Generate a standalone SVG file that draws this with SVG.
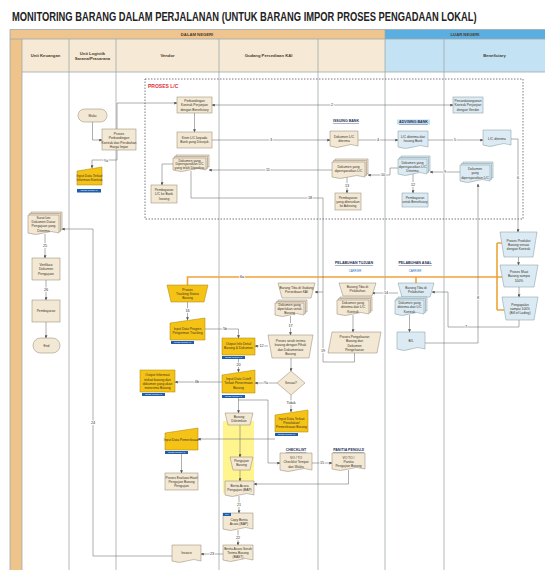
<svg xmlns="http://www.w3.org/2000/svg" width="545" height="570" viewBox="0 0 545 570">
<defs>
<marker id="a" viewBox="0 0 6 6" refX="5.5" refY="3" markerWidth="3" markerHeight="3" markerUnits="userSpaceOnUse" orient="auto-start-reverse"><path d="M0,0L6,3L0,6z" fill="#555"/></marker>
<style>
.box{fill:#f3e8d3;stroke:#8f836e;stroke-width:.5}
.lb{fill:#dcebf3;stroke:#7f949f;stroke-width:.5}
.yl{fill:#f5c216;stroke:#a88300;stroke-width:.5}
.tag{fill:#1d5fae}
.tt{font-family:"Liberation Sans",Arial,sans-serif;font-size:1.8px;fill:#fff;text-anchor:middle}
.t{font-family:"Liberation Sans",Arial,sans-serif;font-size:3.3px;fill:#3a3328;text-anchor:middle}
.c{fill:none;stroke:#6d6d6d;stroke-width:.55}
.o{fill:none;stroke:#eea43a;stroke-width:1.6}
.n{font-family:"Liberation Sans",Arial,sans-serif;font-size:3.8px;fill:#333;text-anchor:middle;paint-order:stroke;stroke:#fff;stroke-width:1.6px}
.lane{stroke:#9ea8aa;stroke-width:.8}
.h{font-family:"Liberation Sans",Arial,sans-serif;font-size:4.2px;font-weight:bold;fill:#4a3a2a;text-anchor:middle}
.lbl{font-family:"Liberation Sans",Arial,sans-serif;font-size:3.6px;font-weight:bold;fill:#1f2f55;text-anchor:middle;text-decoration:underline}
.car{font-family:"Liberation Sans",Arial,sans-serif;font-size:2.8px;fill:#2f72c0;text-anchor:middle}
</style>
</defs>
<rect width="545" height="570" fill="#fff"/>
<text transform="translate(12,20.5) scale(0.72,1)" x="0" y="0" font-family="Liberation Sans, Arial, sans-serif" font-size="13" font-weight="bold" fill="#222">MONITORING BARANG DALAM PERJALANAN (UNTUK BARANG IMPOR PROSES PENGADAAN LOKAL)</text>
<g id="table">
<rect x="10" y="29.5" width="375" height="9.5" fill="#efc58f"/>
<rect x="385" y="29.5" width="160" height="9.5" fill="#5aaee0"/>
<rect x="22" y="39" width="363" height="33" fill="#f6ead6"/>
<rect x="385" y="39" width="160" height="33" fill="#c3e2f3"/>
<rect x="10" y="39" width="12" height="531" fill="#efc48b"/>
<line class="lane" x1="10" y1="29.5" x2="545" y2="29.5"/>
<line class="lane" x1="10" y1="39" x2="545" y2="39"/>
<line class="lane" x1="22" y1="72" x2="545" y2="72"/>
<line class="lane" x1="10" y1="29.5" x2="10" y2="570"/>
<line class="lane" x1="22" y1="39" x2="22" y2="570"/>
<line class="lane" x1="69" y1="39" x2="69" y2="570"/>
<line class="lane" x1="116" y1="39" x2="116" y2="570"/>
<line class="lane" x1="219" y1="39" x2="219" y2="570"/>
<line class="lane" x1="318" y1="39" x2="318" y2="570"/>
<line class="lane" x1="385" y1="29.5" x2="385" y2="570"/>
<line class="lane" x1="444" y1="39" x2="444" y2="570"/>
<text class="h" x="197" y="35.8">DALAM NEGERI</text>
<text class="h" x="465" y="35.8" fill="#1c3a5a">LUAR NEGERI</text>
<text class="h" x="45.5" y="57">Unit Keuangan</text>
<text class="h" x="92.5" y="54.5">Unit Logistik<tspan x="92.5" y="59.5">Sarana/Prasarana</tspan></text>
<text class="h" x="167.5" y="57">Vendor</text>
<text class="h" x="268.5" y="57">Gudang Persediaan KAI</text>
<text class="h" x="494.5" y="57" fill="#1c3a5a">Beneficiary</text>
</g>
<g id="lc-frame">
<rect x="145" y="79" width="378" height="140" fill="none" stroke="#556" stroke-width=".8" stroke-dasharray="1.5,1.5"/>
<text x="148" y="88" font-family="Liberation Sans, Arial, sans-serif" font-size="5" font-weight="bold" fill="#e0303a">PROSES L/C</text>
<text class="lbl" x="346" y="122">ISSUING BANK</text>
<rect x="397" y="119.5" width="33" height="5" fill="#bfe0f5"/>
<text class="lbl" x="413.5" y="123.3" fill="#2f72c0">ADVISING BANK</text>
<text class="lbl" x="354" y="264">PELABUHAN TUJUAN</text>
<text class="car" x="355" y="271.5">CARRIER</text>
<text class="lbl" x="415" y="264" fill="#2f72c0">PELABUHAN ASAL</text>
<text class="car" x="415" y="271.5">CARRIER</text>
<text class="lbl" x="296" y="451">CHECKLIST</text>
<text class="lbl" x="348.5" y="451">PANITIA PENGUJI</text>
<rect x="223" y="421" width="31" height="72" fill="#fff27a" opacity=".85"/>
</g>
<g id="connectors">
<path class="o" d="M187.5,285V277H497M497,243V310M497,243H501.8M497,277H502.2M497,310H504.3M416,277V283"/>
<path class="c" marker-end="url(#a)" d="M92.5,122V140H102"/>
<path class="c" marker-end="url(#a)" d="M117,129V103H177"/>
<path class="c" marker-end="url(#a)" d="M117,150V160H92V168"/>
<path class="c" marker-start="url(#a)" marker-end="url(#a)" d="M212,105H453"/>
<path class="c" marker-end="url(#a)" d="M194.5,113V132"/>
<path class="c" marker-end="url(#a)" d="M212,140H330"/>
<path class="c" marker-end="url(#a)" d="M358,140H398"/>
<path class="c" marker-end="url(#a)" d="M428,140H483"/>
<path class="c" marker-end="url(#a)" d="M511,139H518V232"/>
<path class="c" marker-end="url(#a)" d="M460,172H430"/>
<path class="c" marker-end="url(#a)" d="M398,168H390V175H368"/>
<path class="c" marker-end="url(#a)" d="M332,170H209"/>
<path class="c" marker-end="url(#a)" d="M413,174V193"/>
<path class="c" marker-end="url(#a)" d="M347,177V193"/>
<path class="c" marker-end="url(#a)" d="M173,164H162V185"/>
<path class="c" marker-end="url(#a)" d="M191,171V198H323V292H315"/>
<path class="c" d="M354.5,353V362H323V292"/>
<path class="c" marker-end="url(#a)" d="M353,315V332"/>
<path class="c" marker-end="url(#a)" d="M398,293H372"/>
<path class="c" marker-end="url(#a)" d="M409.5,315V332"/>
<path class="c" marker-end="url(#a)" d="M425,343H478V184"/>
<path class="c" marker-end="url(#a)" d="M519,320V327H448V292H432"/>
<path class="c" marker-end="url(#a)" d="M518.5,257V265"/>
<path class="c" marker-end="url(#a)" d="M519,287V297"/>
<path class="c" marker-end="url(#a)" d="M187.5,302V320"/>
<path class="c" marker-end="url(#a)" d="M205,329H238.5V338"/>
<path class="c" marker-end="url(#a)" d="M268,346H255"/>
<path class="c" marker-end="url(#a)" d="M290.5,316V335"/>
<path class="c" marker-end="url(#a)" d="M291,358V371"/>
<path class="c" marker-end="url(#a)" d="M277,383H255"/>
<path class="c" marker-end="url(#a)" d="M238.5,359V372"/>
<path class="c" marker-end="url(#a)" d="M222,382H175"/>
<path class="c" marker-end="url(#a)" d="M291,395V412"/>
<path class="c" marker-end="url(#a)" d="M238.5,398V413"/>
<path class="c" marker-end="url(#a)" d="M238.5,400H268V463H280"/>
<path class="c" marker-end="url(#a)" d="M240,425V457"/>
<path class="c" marker-end="url(#a)" d="M240,470V481"/>
<path class="c" marker-end="url(#a)" d="M312,463H332"/>
<path class="c" marker-end="url(#a)" d="M348.5,470V484H254"/>
<path class="c" marker-end="url(#a)" d="M275,439H198"/>
<path class="c" marker-end="url(#a)" d="M181.5,454V473"/>
<path class="c" marker-end="url(#a)" d="M239,496V513"/>
<path class="c" marker-end="url(#a)" d="M238,530V545"/>
<path class="c" marker-end="url(#a)" d="M223,554H201"/>
<path class="c" marker-end="url(#a)" d="M172,556H93V229H62"/>
<path class="c" marker-end="url(#a)" d="M45,234V258"/>
<path class="c" marker-end="url(#a)" d="M46,280V300"/>
<path class="c" marker-end="url(#a)" d="M46,322V338"/>
<text class="n" x="106" y="161.5">Ya</text>
<text class="n" x="332" y="106.3">2</text>
<text class="n" x="271" y="141.3">3</text>
<text class="n" x="378" y="141.3">4</text>
<text class="n" x="455" y="141.3">5</text>
<text class="n" x="518" y="179">6</text>
<text class="n" x="445" y="173.3">9</text>
<text class="n" x="383" y="176.3">10</text>
<text class="n" x="268" y="171.3">11</text>
<text class="n" x="413" y="185.5">12</text>
<text class="n" x="347" y="186.5">13</text>
<text class="n" x="310" y="199.3">18</text>
<text class="n" x="323" y="352">19</text>
<text class="n" x="386" y="294.3">14</text>
<text class="n" x="478" y="299">8</text>
<text class="n" x="466" y="328.3">7</text>
<text class="n" x="242" y="278.3">6a</text>
<text class="n" x="187.5" y="312">16</text>
<text class="n" x="225" y="330.3">5b</text>
<text class="n" x="261.5" y="347.3">12</text>
<text class="n" x="290.5" y="327">17</text>
<text class="n" x="238.5" y="366">20</text>
<text class="n" x="197" y="383.3">6b</text>
<text class="n" x="266" y="384.3" fill="#2a9a3a">Ya</text>
<text class="n" x="291" y="404" fill="#e0303a">Tidak</text>
<text class="n" x="322" y="464.3">15</text>
<text class="n" x="239" y="506">21</text>
<text class="n" x="238" y="539">22</text>
<text class="n" x="212" y="555.3">23</text>
<text class="n" x="93" y="424">24</text>
<text class="n" x="45" y="247">25</text>
<text class="n" x="46" y="291">26</text>
</g>
<g id="n_mulai"><rect class="box" x="78" y="109" width="29" height="13" rx="6.5"/><text class="t" x="92.5" y="116.8">Mulai</text></g>
<g id="n_proses_banding"><rect class="box" x="102" y="129" width="34" height="21"/><text class="t"><tspan x="119" y="134.9">Proses</tspan><tspan x="119" y="139.2">Perbandingan</tspan><tspan x="119" y="143.5">Kontrak dan Perubahan</tspan><tspan x="119" y="147.8">Harga Impor</tspan></text></g>
<g id="n_input_kontrak"><path class="yl" d="M77,171L102,167V185H77Z"/><text class="t"><tspan x="89.5" y="176.6">Input Data Terkait</tspan><tspan x="89.5" y="180.9">Informasi Kontrak</tspan></text><rect class="tag" x="77" y="189" width="24" height="3.5"/><text class="tt" x="89" y="191.4">SISTEM INFORMASI</text></g>
<g id="n_perbandingan"><rect class="box" x="177" y="97" width="35" height="16"/><text class="t"><tspan x="194.5" y="102">Perbandingan</tspan><tspan x="194.5" y="106.3">Kontrak Perjanjian</tspan><tspan x="194.5" y="110.6">dengan Beneficiary</tspan></text></g>
<g id="n_kirim_lc"><rect class="box" x="177" y="132" width="35" height="16"/><text class="t"><tspan x="194.5" y="138.6">Kirim L/C kepada</tspan><tspan x="194.5" y="142.9">Bank yang Ditunjuk</tspan></text></g>
<g id="n_dok_vendor"><path class="box" d="M176,155h33v12q-8.25,-3 -16.5,0t-16.5,0z"/><path class="box" d="M174.5,156.5h33v12q-8.25,-3 -16.5,0t-16.5,0z"/><path class="box" d="M173,158h33v12q-8.25,-3 -16.5,0t-16.5,0z"/><text class="t"><tspan x="189.5" y="161.6">Dokumen yang</tspan><tspan x="189.5" y="165.4">Dipersyaratkan L/C</tspan><tspan x="189.5" y="169.2">yang telah Diperiksa</tspan></text></g>
<g id="n_bayar_lc"><rect class="box" x="151" y="185" width="26" height="18"/><text class="t"><tspan x="164" y="191">Pembayaran</tspan><tspan x="164" y="195.3">L/C ke Bank</tspan><tspan x="164" y="199.6">Issuing</tspan></text></g>
<g id="n_dok_lc_issuing"><path class="box" d="M330,131h28v15q-7,-3 -14,0t-14,0z"/><text class="t"><tspan x="344" y="137.5">Dokumen L/C</tspan><tspan x="344" y="141.8">diterima</tspan></text></g>
<g id="n_dok_issuing"><path class="box" d="M335,159h33v15q-8.25,-3 -16.5,0t-16.5,0z"/><path class="box" d="M333.5,160.5h33v15q-8.25,-3 -16.5,0t-16.5,0z"/><path class="box" d="M332,162h33v15q-8.25,-3 -16.5,0t-16.5,0z"/><text class="t"><tspan x="348.5" y="168">Dokumen yang</tspan><tspan x="348.5" y="172.3">dipersyaratkan L/C</tspan></text></g>
<g id="n_bayar_issuing"><rect class="box" x="335" y="193" width="26" height="17"/><text class="t"><tspan x="348" y="198.5">Pembayaran</tspan><tspan x="348" y="202.8">yang diteruskan</tspan><tspan x="348" y="207.1">ke Advising</tspan></text></g>
<g id="n_lc_advising"><path class="lb" d="M398,131h30v16q-7.5,-3 -15,0t-15,0z"/><text class="t"><tspan x="413" y="138">L/C diterima dari</tspan><tspan x="413" y="142.3">Issuing Bank</tspan></text></g>
<g id="n_dok_advising"><path class="lb" d="M401,156h29v15q-7.25,-3 -14.5,0t-14.5,0z"/><path class="lb" d="M399.5,157.5h29v15q-7.25,-3 -14.5,0t-14.5,0z"/><path class="lb" d="M398,159h29v15q-7.25,-3 -14.5,0t-14.5,0z"/><text class="t"><tspan x="412.5" y="163.5">Dokumen yang</tspan><tspan x="412.5" y="167.5">dipersyaratkan L/C</tspan><tspan x="412.5" y="171.5">Diterima</tspan></text></g>
<g id="n_bayar_ben"><rect class="lb" x="402" y="193" width="26" height="14"/><text class="t"><tspan x="415" y="198.6">Pembayaran</tspan><tspan x="415" y="202.9">untuk Beneficiary</tspan></text></g>
<g id="n_tandatangan"><rect class="lb" x="453" y="97" width="30" height="16"/><text class="t"><tspan x="468" y="102">Penandatanganan</tspan><tspan x="468" y="106.3">Kontrak Perjanjian</tspan><tspan x="468" y="110.6">dengan Vendor</tspan></text></g>
<g id="n_lc_ben"><path class="lb" d="M483,130h28v15q-7,-3 -14,0t-14,0z"/><text class="t" x="497" y="139.5">L/C diterima</text></g>
<g id="n_dok_ben"><path class="lb" d="M463,162h30v16q-7.5,-3 -15,0t-15,0z"/><path class="lb" d="M461.5,163.5h30v16q-7.5,-3 -15,0t-15,0z"/><path class="lb" d="M460,165h30v16q-7.5,-3 -15,0t-15,0z"/><text class="t"><tspan x="475" y="170">Dokumen</tspan><tspan x="475" y="174.3">yang</tspan><tspan x="475" y="178.6">dipersyaratkan L/C</tspan></text></g>
<g id="n_produksi"><path class="lb" d="M500,232h37l-4,25h-29z"/><text class="t"><tspan x="518.5" y="241.5">Proses Produksi</tspan><tspan x="518.5" y="245.8">Barang sesuai</tspan><tspan x="518.5" y="250.1">dengan Kontrak</tspan></text></g>
<g id="n_muat"><path class="lb" d="M500,265h38l-4,22h-30z"/><text class="t"><tspan x="519" y="273">Proses Muat</tspan><tspan x="519" y="277.3">Barang sampai</tspan><tspan x="519" y="281.6">100%</tspan></text></g>
<g id="n_kapal"><path class="lb" d="M502,297h36l-4,23h-28z"/><text class="t"><tspan x="520" y="305.5">Pengapalan</tspan><tspan x="520" y="309.8">sampai 100%</tspan><tspan x="520" y="314.1">(Bill of Lading)</tspan></text></g>
<g id="n_tiba_asal"><path class="lb" d="M398,283h36l-4,14h-28z"/><text class="t"><tspan x="416" y="288.6">Barang Tiba di</tspan><tspan x="416" y="292.9">Pelabuhan</tspan></text></g>
<g id="n_dok_asal"><path class="lb" d="M398,297h29v14q-7.25,-3 -14.5,0t-14.5,0z"/><path class="lb" d="M396.5,298.5h29v14q-7.25,-3 -14.5,0t-14.5,0z"/><path class="lb" d="M395,300h29v14q-7.25,-3 -14.5,0t-14.5,0z"/><text class="t"><tspan x="409.5" y="304">Dokumen yang</tspan><tspan x="409.5" y="308.3">diterima dari L/C</tspan><tspan x="409.5" y="312.6">Kontrak</tspan></text></g>
<g id="n_bl"><path class="lb" d="M397,332h28v17q-7,-3 -14,0t-14,0z"/><text class="t" x="411" y="341.5">B/L</text></g>
<g id="n_tiba_tujuan"><path class="box" d="M339,283h37l-4,13h-29z"/><text class="t"><tspan x="357.5" y="288.1">Barang Tiba di</tspan><tspan x="357.5" y="292.4">Pelabuhan</tspan></text></g>
<g id="n_dok_tujuan"><path class="box" d="M340,297h32v14q-8,-3 -16,0t-16,0z"/><path class="box" d="M338.5,298.5h32v14q-8,-3 -16,0t-16,0z"/><path class="box" d="M337,300h32v14q-8,-3 -16,0t-16,0z"/><text class="t"><tspan x="353" y="304">Dokumen yang</tspan><tspan x="353" y="308.3">diterima dari L/C</tspan><tspan x="353" y="312.6">Kontrak</tspan></text></g>
<g id="n_pengeluaran"><path class="box" d="M332,332H381L377,353H328Z"/><text class="t"><tspan x="354.5" y="337.9">Proses Pengeluaran</tspan><tspan x="354.5" y="342.2">Barang dan</tspan><tspan x="354.5" y="346.5">Dokumen</tspan><tspan x="354.5" y="350.8">Pengeluaran</tspan></text></g>
<g id="n_tiba_gudang"><path class="box" d="M278,283h37l-4,15h-29z"/><text class="t"><tspan x="296.5" y="289.1">Barang Tiba di Gudang</tspan><tspan x="296.5" y="293.4">Persediaan KAI</tspan></text></g>
<g id="n_dok_gudang"><path class="box" d="M278,300h29v12q-7.25,-3 -14.5,0t-14.5,0z"/><path class="box" d="M276.5,301.5h29v12q-7.25,-3 -14.5,0t-14.5,0z"/><path class="box" d="M275,303h29v12q-7.25,-3 -14.5,0t-14.5,0z"/><text class="t"><tspan x="289.5" y="306.3">Dokumen yang</tspan><tspan x="289.5" y="310.1">diperlukan untuk</tspan><tspan x="289.5" y="313.9">Barang</tspan></text></g>
<g id="n_serah"><path class="box" d="M268,335h45l-4,23h-37z"/><text class="t"><tspan x="290.5" y="341.9">Proses serah terima</tspan><tspan x="290.5" y="346.2">barang dengan Pihak</tspan><tspan x="290.5" y="350.5">dan Dokumentasi</tspan><tspan x="290.5" y="354.8">Barang</tspan></text></g>
<g id="n_sesuai"><path class="box" d="M291,371L305,383L291,395L277,383Z"/><text class="t" x="291" y="384.2">Sesuai?</text></g>
<g id="n_output_info"><rect class="yl" x="222" y="338" width="33" height="17"/><text class="t"><tspan x="238.5" y="345.1">Output Info Detail</tspan><tspan x="238.5" y="349.4">Barang &amp; Dokumen</tspan></text><rect class="tag" x="222" y="356" width="23" height="3"/><text class="tt" x="233.5" y="358.1">SISTEM INFORMASI</text></g>
<g id="n_input_terima"><path class="yl" d="M222,375L255,370V393H222Z"/><text class="t"><tspan x="238.5" y="380">Input Data Cutoff</tspan><tspan x="238.5" y="384.3">Terkait Penerimaan</tspan><tspan x="238.5" y="388.6">Barang</tspan></text><rect class="tag" x="222" y="395" width="23" height="3"/><text class="tt" x="233.5" y="397.1">SISTEM INFORMASI</text></g>
<g id="n_input_tolak"><path class="yl" d="M275,415L308,410V432H275Z"/><text class="t"><tspan x="291.5" y="419.5">Input Data Terkait</tspan><tspan x="291.5" y="423.8">Penolakan/</tspan><tspan x="291.5" y="428.1">Pemeriksaan Barang</tspan></text><rect class="tag" x="275" y="433" width="23" height="3"/><text class="tt" x="286.5" y="435.1">SISTEM INFORMASI</text></g>
<g id="n_dikirim"><path class="box" d="M225,413h28l-3,12h-22z"/><text class="t"><tspan x="239" y="417.6">Barang</tspan><tspan x="239" y="421.9">Dikirimkan</tspan></text></g>
<g id="n_pengujian"><path class="box" d="M230,457h23l-3,13h-17z"/><text class="t"><tspan x="241.5" y="462.1">Pengujian</tspan><tspan x="241.5" y="466.4">Barang</tspan></text></g>
<g id="n_bap"><path class="box" d="M225,481h29v14q-7.25,-3 -14.5,0t-14.5,0z"/><text class="t"><tspan x="239.5" y="487">Berita Acara</tspan><tspan x="239.5" y="491.3">Pengujian (BAP)</tspan></text></g>
<g id="n_copy_bap"><path class="box" d="M223,513h30v16q-7.5,-3 -15,0t-15,0z"/><rect class="tag" x="223" y="513" width="8" height="3"/><text class="tt" x="227" y="515.2">BAP</text><text class="t"><tspan x="239" y="521">Copy Berita</tspan><tspan x="239" y="525.3">Acara (BAP)</tspan></text></g>
<g id="n_bast"><path class="box" d="M223,545h30v15q-7.5,-3 -15,0t-15,0z"/><text class="t"><tspan x="238" y="549.5">Berita Acara Serah</tspan><tspan x="238" y="553.8">Terima Barang</tspan><tspan x="238" y="558.1">(BAST)</tspan></text></g>
<g id="n_checklist"><path class="box" d="M280,453h32v17q-8,-3 -16,0t-16,0z"/><text class="t"><tspan x="296" y="459">VO / TO</tspan><tspan x="296" y="463.3">Checklist Tempat</tspan><tspan x="296" y="467.6">dan Waktu</tspan></text></g>
<g id="n_panitia"><path class="box" d="M332,453h33v16q-8.25,-3 -16.5,0t-16.5,0z"/><text class="t"><tspan x="348.5" y="458.5">VO TO /</tspan><tspan x="348.5" y="462.8">Panitia</tspan><tspan x="348.5" y="467.1">Pengujian Barang</tspan></text></g>
<g id="n_tracking"><path class="yl" d="M167,285h41l-4,17h-33z"/><text class="t"><tspan x="187.5" y="290.5">Proses</tspan><tspan x="187.5" y="294.8">Tracking Status</tspan><tspan x="187.5" y="299.1">Barang</tspan></text></g>
<g id="n_input_progres"><path class="yl" d="M170,323L205,318V340H170Z"/><text class="t"><tspan x="187.5" y="329.6">Input Data Progres</tspan><tspan x="187.5" y="333.9">Pengiriman Tracking</tspan></text><rect class="tag" x="171" y="341" width="23" height="3"/><text class="tt" x="182.5" y="343.1">SISTEM INFORMASI</text></g>
<g id="n_output_info2"><rect class="yl" x="140" y="370" width="35" height="22"/><text class="t"><tspan x="157.5" y="376.4">Output Informasi</tspan><tspan x="157.5" y="380.7">terkait barang dan</tspan><tspan x="157.5" y="385">dokumen yang akan</tspan><tspan x="157.5" y="389.3">menerima Barang</tspan></text><rect class="tag" x="142" y="393" width="23" height="3"/><text class="tt" x="153.5" y="395.1">SISTEM INFORMASI</text></g>
<g id="n_input_periksa"><path class="yl" d="M165,433L198,428V450H165Z"/><text class="t" x="181.5" y="441.3">Input Data Pemeriksaan</text><rect class="tag" x="165" y="451" width="23" height="3"/><text class="tt" x="176.5" y="453.1">SISTEM INFORMASI</text></g>
<g id="n_evaluasi"><rect class="box" x="165" y="473" width="33" height="17"/><text class="t"><tspan x="181.5" y="478.5">Proses Evaluasi Hasil</tspan><tspan x="181.5" y="482.8">Pengujian Barang</tspan><tspan x="181.5" y="487.1">Pengujian</tspan></text></g>
<g id="n_invoice"><path class="box" d="M172,545h29v16q-7.25,-3 -14.5,0t-14.5,0z"/><text class="t" x="186.5" y="554">Invoice</text></g>
<g id="n_dok_keu"><path class="box" d="M31,212h31v18q-7.75,-3 -15.5,0t-15.5,0z"/><path class="box" d="M29.5,213.5h31v18q-7.75,-3 -15.5,0t-15.5,0z"/><path class="box" d="M28,215h31v18q-7.75,-3 -15.5,0t-15.5,0z"/><text class="t"><tspan x="43.5" y="219.2">Surat Izin</tspan><tspan x="43.5" y="223.3">Dokumen Dasar</tspan><tspan x="43.5" y="227.4">Pengajuan yang</tspan><tspan x="43.5" y="231.5">Diterima</tspan></text></g>
<g id="n_verif"><rect class="box" x="32" y="258" width="28" height="22"/><text class="t"><tspan x="46" y="266">Verifikasi</tspan><tspan x="46" y="270.3">Dokumen</tspan><tspan x="46" y="274.6">Pengajuan</tspan></text></g>
<g id="n_bayar"><rect class="box" x="32" y="300" width="28" height="22"/><text class="t" x="46" y="312.3">Pembayaran</text></g>
<g id="n_end"><rect class="box" x="33" y="338" width="27" height="15" rx="7.5"/><text class="t" x="46.5" y="346.8">End</text></g>
</svg>
